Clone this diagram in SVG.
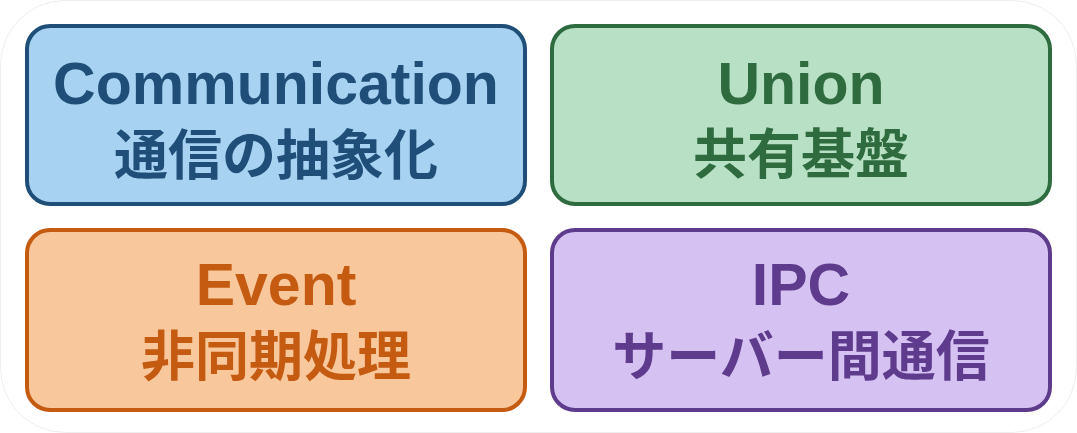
<svg xmlns="http://www.w3.org/2000/svg" width="1077" height="433" viewBox="0 0 1077 433">
  <style>
    .box { stroke-width: 4; }
    .en { font-family: "Liberation Sans", Arial, sans-serif; font-weight: bold; font-size: 59px; text-anchor: middle; }
    .ja { font-family: "Noto Sans CJK JP", "Noto Sans CJK SC", sans-serif; font-weight: bold; font-size: 54px; text-anchor: middle; }
    .blue rect { fill: #a7d2f2; stroke: #1f4e79; }
    .blue text { fill: #1f4e79; }
    .green rect { fill: #b8e0c4; stroke: #2e6b3e; }
    .green text { fill: #2e6b3e; }
    .orange rect { fill: #f8c89c; stroke: #c55a11; }
    .orange text { fill: #c55a11; }
    .purple rect { fill: #d6c2f2; stroke: #5e3b8c; }
    .purple text { fill: #5e3b8c; }
  </style>
  <rect x="0.5" y="0.5" width="1076" height="432" rx="65" ry="65" fill="#ffffff" stroke="#eeeeee" stroke-width="1"/>
  <g id="connectors"></g>
  <g id="communication" class="blue">
    <rect class="box" x="27" y="26" width="498" height="178" rx="23" ry="23"/>
    <text class="en" x="276" y="104">Communication</text>
    <text class="ja" x="276" y="175">通信の抽象化</text>
  </g>
  <g id="union" class="green">
    <rect class="box" x="552" y="26" width="498" height="178" rx="23" ry="23"/>
    <text class="en" x="801" y="104">Union</text>
    <text class="ja" x="801" y="174">共有基盤</text>
  </g>
  <g id="event" class="orange">
    <rect class="box" x="27" y="230" width="498" height="180" rx="23" ry="23"/>
    <text class="en" x="276" y="305">Event</text>
    <text class="ja" x="276" y="376">非同期処理</text>
  </g>
  <g id="ipc" class="purple">
    <rect class="box" x="552" y="230" width="498" height="180" rx="23" ry="23"/>
    <text class="en" x="801" y="305">IPC</text>
    <text class="ja" x="801" y="376">サーバー間通信</text>
  </g>
</svg>
